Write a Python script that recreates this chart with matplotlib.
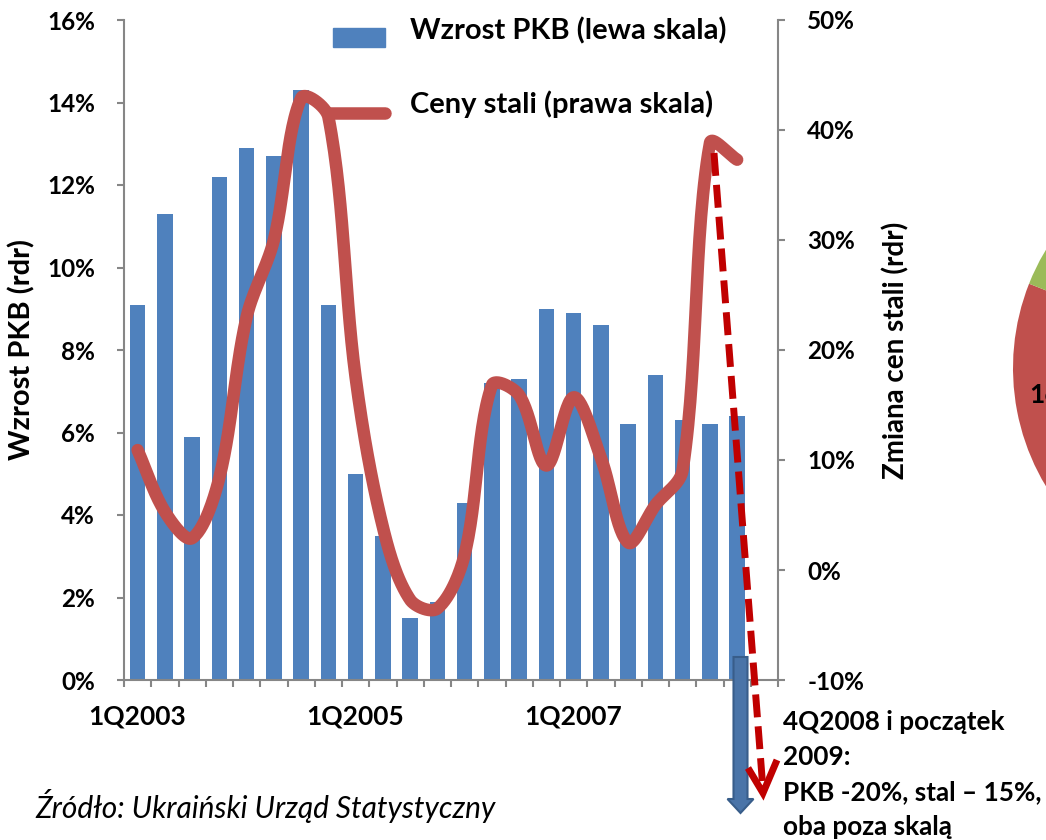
import numpy as np
import matplotlib.pyplot as plt
from matplotlib.patches import Rectangle, FancyArrow
from matplotlib.ticker import FixedLocator, FuncFormatter

plt.rcParams['font.family'] = ['Lato', 'DejaVu Sans']

# data
quarters = [f'{q}Q{y}' for y in range(2003, 2009) for q in range(1, 5)]
gdp = [9.1, 11.3, 5.9, 12.2, 12.9, 12.7, 14.3, 9.1, 5.0, 3.5, 1.5, 1.9,
       4.3, 7.2, 7.3, 9.0, 8.9, 8.6, 6.2, 7.4, 6.3, 6.2, 6.4]
steel = [10.9, 5.3, 2.9, 8.4, 23.0, 30.0, 42.9, 41.2, 17.5, 3.9, -2.7, -3.5,
         1.4, 16.8, 15.9, 9.5, 15.7, 10.2, 2.5, 5.9, 9.1, 38.8, 37.3]
label_every = 8
pie_vals = [45, 36, 19]
pie_colors = ['#4F81BD', '#C0504D', '#9BBB59']
note_lines = ['4Q2008 i początek', '2009:', 'PKB -20%, stal – 15%,', 'oba poza skalą']

BLUE = '#4F81BD'
RED = '#C0504D'
GRAY = '#868686'

W, H = 1046, 840
PX_X = 654 / 24      # px per category
PX_Y = 660 / 60      # px per percent on right axis


def smooth(x, y, n=30):
    # bezier smoothing like the spreadsheet "smoothed line",
    # control arms scaled by segment length on screen
    x = np.asarray(x, float)
    y = np.asarray(y, float)
    sx, sy = x * PX_X, y * PX_Y
    m = len(x)
    d = np.hypot(np.diff(sx), np.diff(sy))
    tx = np.zeros(m)
    ty = np.zeros(m)
    for i in range(m):
        a = max(i - 1, 0)
        b = min(i + 1, m - 1)
        tx[i] = sx[b] - sx[a]
        ty[i] = sy[b] - sy[a]
    t = np.linspace(0, 1, n)
    ox, oy = [], []
    for i in range(m - 1):
        d0 = d[i - 1] if i > 0 else d[i]
        d1 = d[i]
        d2 = d[i + 1] if i + 1 < m - 1 else d[i]
        f1 = d1 / (d0 + d1) / 3 * (2 if i == 0 else 1)
        f2 = d1 / (d1 + d2) / 3 * (2 if i + 1 == m - 1 else 1)
        p0 = np.array([sx[i], sy[i]])
        p3 = np.array([sx[i + 1], sy[i + 1]])
        p1 = p0 + f1 * np.array([tx[i], ty[i]])
        p2 = p3 - f2 * np.array([tx[i + 1], ty[i + 1]])
        bz = ((1 - t) ** 3)[:, None] * p0 + (3 * (1 - t) ** 2 * t)[:, None] * p1 \
            + (3 * (1 - t) * t ** 2)[:, None] * p2 + (t ** 3)[:, None] * p3
        ox.extend(bz[:, 0])
        oy.extend(bz[:, 1])
    return np.array(ox) / PX_X, np.array(oy) / PX_Y


fig = plt.figure(figsize=(W / 100, H / 100), dpi=100)

# partial pie at the right edge
cx, cy, r = 1242, 368, 229
axp = fig.add_axes([(cx - r) / W, (H - cy - r) / H, 2 * r / W, 2 * r / H], zorder=0)
axp.pie(pie_vals, colors=pie_colors, startangle=90, counterclock=False, radius=1,
        wedgeprops=dict(linewidth=0))
axp.set_xlim(-1, 1)
axp.set_ylim(-1, 1)
axp.axis('off')

ax = fig.add_axes([124 / W, (H - 680) / H, 654 / W, 660 / H], zorder=2)
ax2 = ax.twinx()

xs = np.arange(len(gdp))
ax.bar(xs, gdp, width=0.56, color=BLUE, zorder=2)
ax.set_xlim(-0.5, len(quarters) - 0.5)
ax.set_ylim(0, 16)
ax.set_yticks(np.arange(0, 17, 2))
ax.yaxis.set_major_formatter(FuncFormatter(lambda v, p: f'{v:.0f}%'))

lx, ly = smooth(xs, steel)
ax2.plot(lx, ly, color=RED, lw=9, solid_capstyle='round', solid_joinstyle='round', zorder=3)
ax2.set_ylim(-10, 50)
ax2.set_yticks(np.arange(-10, 51, 10))
ax2.yaxis.set_major_formatter(FuncFormatter(lambda v, p: f'{v:.0f}%'))

major = list(range(0, len(quarters), label_every))
ax.xaxis.set_major_locator(FixedLocator(major))
ax.set_xticklabels([quarters[i] for i in major])
ax.xaxis.set_minor_locator(FixedLocator(np.arange(-0.5, len(quarters), 1.0)))
ax.tick_params(axis='x', which='major', length=0, pad=18, labelsize=19)
ax.tick_params(axis='x', which='minor', length=5, width=1.5, color=GRAY, direction='out')
ax.tick_params(axis='y', length=5, width=1.5, color=GRAY, pad=16, labelsize=17.5)
ax2.tick_params(axis='y', length=5, width=1.5, color=GRAY, pad=16, labelsize=17.5)
for a in (ax, ax2):
    for lab in a.get_xticklabels() + a.get_yticklabels():
        lab.set_fontweight('bold')
    a.spines['top'].set_visible(False)
    for s in ('left', 'right', 'bottom'):
        a.spines[s].set_color(GRAY)
        a.spines[s].set_linewidth(1.5)
ax.spines['right'].set_visible(False)
ax2.spines['left'].set_visible(False)
ax2.spines['bottom'].set_visible(False)

# overlay in pixel coordinates for labels, legend and annotations
ov = fig.add_axes([0, 0, 1, 1], zorder=5)
ov.set_xlim(0, W)
ov.set_ylim(H, 0)
ov.axis('off')

ov.text(22, 350, 'Wzrost PKB (rdr)', fontsize=21, fontweight='bold', rotation=90,
        ha='center', va='center')
ov.text(896, 350, 'Zmiana cen stali (rdr)', fontsize=20, fontweight='bold', rotation=90,
        ha='center', va='center')

ov.add_patch(Rectangle((333, 28), 52, 19, color=BLUE))
ov.text(410, 31, 'Wzrost PKB (lewa skala)', fontsize=21, fontweight='bold', va='center')
ov.plot([330, 385], [113, 113], color=RED, lw=9, solid_capstyle='round')
ov.text(410, 104, 'Ceny stali (prawa skala)', fontsize=21, fontweight='bold', va='center')

# blue arrow: GDP off the scale
ov.add_patch(FancyArrow(740.5, 657, 0, 156, width=14, head_width=26, head_length=14,
                        length_includes_head=True, facecolor='#4A74A8',
                        edgecolor='#385D8A', lw=1.5))

# red dashed arrow: steel off the scale
ov.plot([714, 763], [153, 790], color='#C00000', lw=5,
        linestyle=(0, (3.3, 1.3)), dash_capstyle='butt')
ov.plot([748, 763, 777], [768, 793, 760], color='#C00000', lw=5,
        solid_capstyle='butt', solid_joinstyle='miter')

for i, line in enumerate(note_lines):
    ov.text(783, 722 + 35 * i, line, fontsize=18.8, fontweight='bold',
            va='center', ha='left')
ov.text(35, 806, 'Źródło: Ukraiński Urząd Statystyczny', fontsize=21.5,
        fontstyle='italic', va='center', ha='left')
ov.text(1029, 395, '16', fontsize=19, fontweight='bold', va='center', ha='left')

fig.savefig('out.png', dpi=100)
